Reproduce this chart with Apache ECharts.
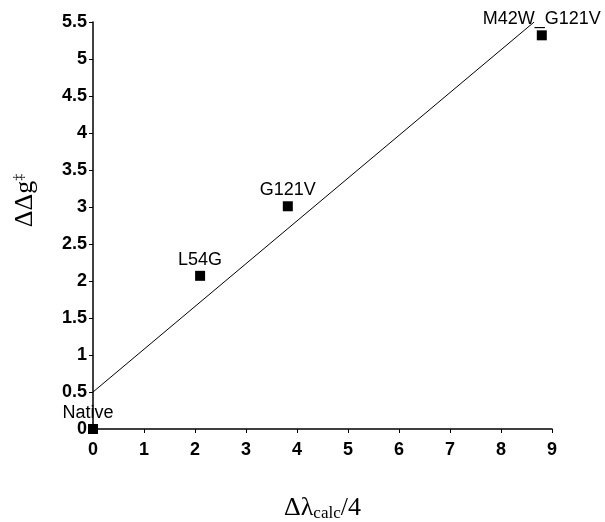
<!DOCTYPE html>
<html><head><meta charset="utf-8">
<script src="https://cdn.jsdelivr.net/npm/echarts@6/dist/echarts.min.js"></script>
<style>html,body{margin:0;padding:0;background:#fff}#c{width:605px;height:522px}</style>
</head><body><div id="c"></div>
<script>
const mutants = ["Native", "L54G", "G121V", "M42W_G121V"];
const lambdaCalc = [0, 2.1, 3.82, 8.8];
const ddg = [0, 2.07, 3.01, 5.32];
const fitX = [0, 8.65];
const fitY = [0.5, 5.5];
const xTicks = [0, 1, 2, 3, 4, 5, 6, 7, 8, 9];
const yTicks = [0, 0.5, 1, 1.5, 2, 2.5, 3, 3.5, 4, 4.5, 5, 5.5];

const chart = echarts.init(document.getElementById('c'));
const sans = 'Liberation Sans, Arial, sans-serif';
const serif = 'Liberation Serif, Times New Roman, serif';
const lblFont = {fontFamily: sans, fontWeight: 'bold', fontSize: 18, color: '#000'};
chart.setOption({
  animation: false,
  grid: {left: 93, right: 53, top: 22, bottom: 93, containLabel: false, outerBoundsMode: 'none'},
  xAxis: {
    type: 'value', min: xTicks[0], max: xTicks[xTicks.length - 1], interval: 1,
    axisLine: {lineStyle: {color: '#000', width: 1.5}},
    axisTick: {show: true, length: 4, lineStyle: {color: '#000', width: 1}},
    splitLine: {show: false},
    axisLabel: Object.assign({margin: 12}, lblFont),
    name: '{a|Δλ}{s|calc}{a|/4}', nameLocation: 'middle', nameGap: 66,
    nameTextStyle: {rich: {
      a: {fontFamily: serif, fontSize: 26, color: '#000'},
      s: {fontFamily: serif, fontSize: 17, color: '#000', verticalAlign: 'bottom', padding: [10, 0, 0, 0]}
    }}
  },
  yAxis: {
    type: 'value', min: yTicks[0], max: yTicks[yTicks.length - 1], interval: 0.5,
    axisLine: {show: true, lineStyle: {color: '#000', width: 1.5}},
    axisTick: {show: true, length: 4, lineStyle: {color: '#000', width: 1}},
    splitLine: {show: false},
    axisLabel: Object.assign({margin: 6}, lblFont),
    name: '{a|ΔΔg}{s|‡}', nameLocation: 'middle', nameGap: 55, nameRotate: 90,
    nameTextStyle: {padding: [0, 0, 0, 50], rich: {
      a: {fontFamily: serif, fontSize: 26, color: '#000'},
      s: {fontFamily: serif, fontSize: 14, color: '#000', verticalAlign: 'top', padding: [0, 0, 12, 0]}
    }}
  },
  series: [
    {
      type: 'line', data: fitX.map((x, i) => [x, fitY[i]]),
      showSymbol: false, symbol: 'none',
      lineStyle: {color: '#000', width: 1}, z: 2
    },
    {
      type: 'scatter', clip: false, symbol: 'rect', symbolSize: 10,
      itemStyle: {color: '#000', opacity: 1},
      data: lambdaCalc.map((x, i) => ({value: [x, ddg[i]], name: mutants[i]})),
      label: {
        show: true, position: 'top', distance: 2,
        formatter: p => p.name,
        fontFamily: sans, fontSize: 18, color: '#000'
      },
      labelLayout: p => p.dataIndex === 0 ? {dx: -5} : {},
      z: 3
    }
  ]
});
</script></body></html>
